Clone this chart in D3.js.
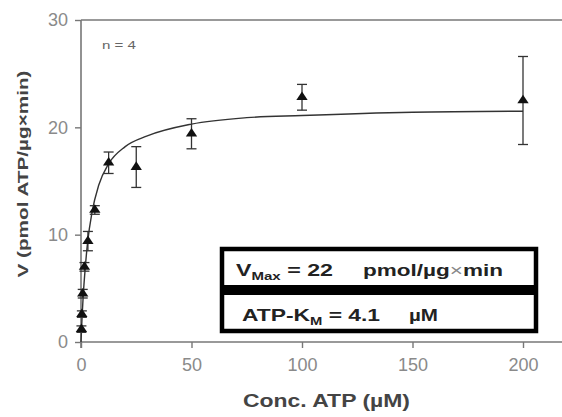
<!DOCTYPE html>
<html>
<head>
<meta charset="utf-8">
<script src="https://cdn.jsdelivr.net/npm/d3@7"></script>
<style>
  body { margin: 0; background: #fff; }
  text { font-family: "Liberation Sans", Arial, sans-serif; }
</style>
</head>
<body>
<div id="chart"></div>
<script>
  // measured points (mean +/- error)
  var conc = [0.195, 0.39, 0.78, 1.5625, 3.125, 6.25, 12.5, 25, 50, 100, 200];
  var vel  = [1.2, 2.6, 4.5, 7.0, 9.4, 12.3, 16.7, 16.3, 19.4, 22.8, 22.5];
  var err  = [0.3, 0.3, 0.4, 0.4, 0.9, 0.4, 1.0, 1.9, 1.4, 1.2, 4.1];

  // fitted curve
  var fitX = [0, 0.5, 1, 2, 3, 5, 8, 12.5, 20, 30, 50, 75, 100, 150, 200];
  var fitV = [0, 2.4, 4.3, 7.1, 9.3, 12.1, 14.6, 16.6, 18.2, 19.2, 20.3, 20.9, 21.1, 21.4, 21.5];

  var xTicks = [0, 50, 100, 150, 200];
  var yTicks = [0, 10, 20, 30];

  var W = 562, H = 417;
  var svg = d3.select("#chart")
    .append("svg")
    .attr("width", W)
    .attr("height", H);

  var x = d3.scaleLinear().domain([0, 200]).range([81, 523]);
  var y = d3.scaleLinear().domain([0, 30]).range([342, 20]);

  var axisCol = "#777";

  // frame lines
  svg.append("line")
    .attr("x1", x(0)).attr("x2", W)
    .attr("y1", y(0)).attr("y2", y(0))
    .attr("stroke", axisCol).attr("stroke-width", 1.6);
  svg.append("line")
    .attr("x1", x(0)).attr("x2", W)
    .attr("y1", y(30)).attr("y2", y(30))
    .attr("stroke", axisCol).attr("stroke-width", 1.6);
  svg.append("line")
    .attr("x1", x(0)).attr("x2", x(0))
    .attr("y1", y(30)).attr("y2", y(0) + 6)
    .attr("stroke", axisCol).attr("stroke-width", 1.6);

  // y axis
  var yAxis = svg.append("g")
    .attr("transform", "translate(" + x(0) + ",0)")
    .call(d3.axisLeft(y).tickValues(yTicks).tickSize(6).tickPadding(7));
  yAxis.select(".domain").remove();
  yAxis.selectAll("line").attr("stroke", axisCol).attr("stroke-width", 1.4);
  yAxis.selectAll("text")
    .attr("fill", "#8a8a8a")
    .style("font-size", "18px")
    .style("font-family", "Liberation Sans, Arial, sans-serif");

  // x axis
  var xAxis = svg.append("g")
    .attr("transform", "translate(0," + y(0) + ")")
    .call(d3.axisBottom(x).tickValues(xTicks).tickSize(6).tickPadding(10));
  xAxis.select(".domain").remove();
  xAxis.selectAll("line").attr("stroke", axisCol).attr("stroke-width", 1.4);
  xAxis.selectAll("text")
    .attr("fill", "#8a8a8a")
    .style("font-size", "18px")
    .style("font-family", "Liberation Sans, Arial, sans-serif");

  // axis titles
  svg.append("text")
    .attr("transform", "translate(28,174) rotate(-90)")
    .attr("text-anchor", "middle")
    .attr("fill", "#444")
    .style("font-size", "15px")
    .style("font-weight", "bold")
    .attr("textLength", 207)
    .attr("lengthAdjust", "spacingAndGlyphs")
    .text("V (pmol ATP/µg×min)");

  svg.append("text")
    .attr("x", 243)
    .attr("y", 407)
    .attr("fill", "#444")
    .style("font-size", "18px")
    .style("font-weight", "bold")
    .attr("textLength", 167)
    .attr("lengthAdjust", "spacingAndGlyphs")
    .text("Conc. ATP (µM)");

  svg.append("text")
    .attr("x", 102)
    .attr("y", 49)
    .attr("fill", "#666")
    .style("font-size", "11px")
    .attr("textLength", 34)
    .attr("lengthAdjust", "spacingAndGlyphs")
    .text("n = 4");

  // fit line
  var line = d3.line()
    .x(function(d, i){ return x(fitX[i]); })
    .y(function(d){ return y(d); })
    .curve(d3.curveMonotoneX);
  svg.append("path")
    .datum(fitV)
    .attr("d", line)
    .attr("fill", "none")
    .attr("stroke", "#333")
    .attr("stroke-width", 1.4);

  // error bars
  var pts = svg.append("g")
    .selectAll("g")
    .data(conc)
    .enter()
    .append("g");

  pts.append("line")
    .attr("x1", function(d){ return x(d); })
    .attr("x2", function(d){ return x(d); })
    .attr("y1", function(d, i){ return y(vel[i] + err[i]); })
    .attr("y2", function(d, i){ return y(vel[i] - err[i]); })
    .attr("stroke", "#333").attr("stroke-width", 1.3);
  pts.append("line")
    .attr("x1", function(d){ return x(d) - 5; })
    .attr("x2", function(d){ return x(d) + 5; })
    .attr("y1", function(d, i){ return y(vel[i] + err[i]); })
    .attr("y2", function(d, i){ return y(vel[i] + err[i]); })
    .attr("stroke", "#333").attr("stroke-width", 1.3);
  pts.append("line")
    .attr("x1", function(d){ return x(d) - 5; })
    .attr("x2", function(d){ return x(d) + 5; })
    .attr("y1", function(d, i){ return y(vel[i] - err[i]); })
    .attr("y2", function(d, i){ return y(vel[i] - err[i]); })
    .attr("stroke", "#333").attr("stroke-width", 1.3);

  // triangles
  pts.append("path")
    .attr("d", d3.symbol().type(d3.symbolTriangle).size(42))
    .attr("transform", function(d, i){ return "translate(" + x(d) + "," + y(vel[i]) + ") scale(1.15,1)"; })
    .attr("fill", "#111");

  // parameter boxes
  var box = svg.append("g");
  box.append("rect")
    .attr("x", 222).attr("y", 249)
    .attr("width", 314).attr("height", 82)
    .attr("fill", "#fff")
    .attr("stroke", "#000").attr("stroke-width", 4.5);
  box.append("rect")
    .attr("x", 222).attr("y", 285)
    .attr("width", 314).attr("height", 10)
    .attr("fill", "#000");

  function boxText(xp, yp, len) {
    return box.append("text")
      .attr("x", xp).attr("y", yp)
      .attr("fill", "#222")
      .style("font-size", "17px")
      .style("font-weight", "bold")
      .attr("textLength", len)
      .attr("lengthAdjust", "spacingAndGlyphs");
  }

  var t1 = boxText(236, 276, 97);
  t1.append("tspan").text("V");
  t1.append("tspan").attr("dy", 4).style("font-size", "11px").text("Max");
  t1.append("tspan").attr("dy", -4).text(" = 22");

  var t1b = boxText(363, 276, 140);
  t1b.append("tspan").text("pmol/µg");
  t1b.append("tspan").attr("fill", "#888").style("font-weight", "normal").text("×");
  t1b.append("tspan").text("min");

  var t2 = boxText(242, 321, 138);
  t2.append("tspan").text("ATP-K");
  t2.append("tspan").attr("dy", 4).style("font-size", "11px").text("M");
  t2.append("tspan").attr("dy", -4).text(" = 4.1");

  boxText(409, 321, 29).text("µM");
</script>
</body>
</html>
